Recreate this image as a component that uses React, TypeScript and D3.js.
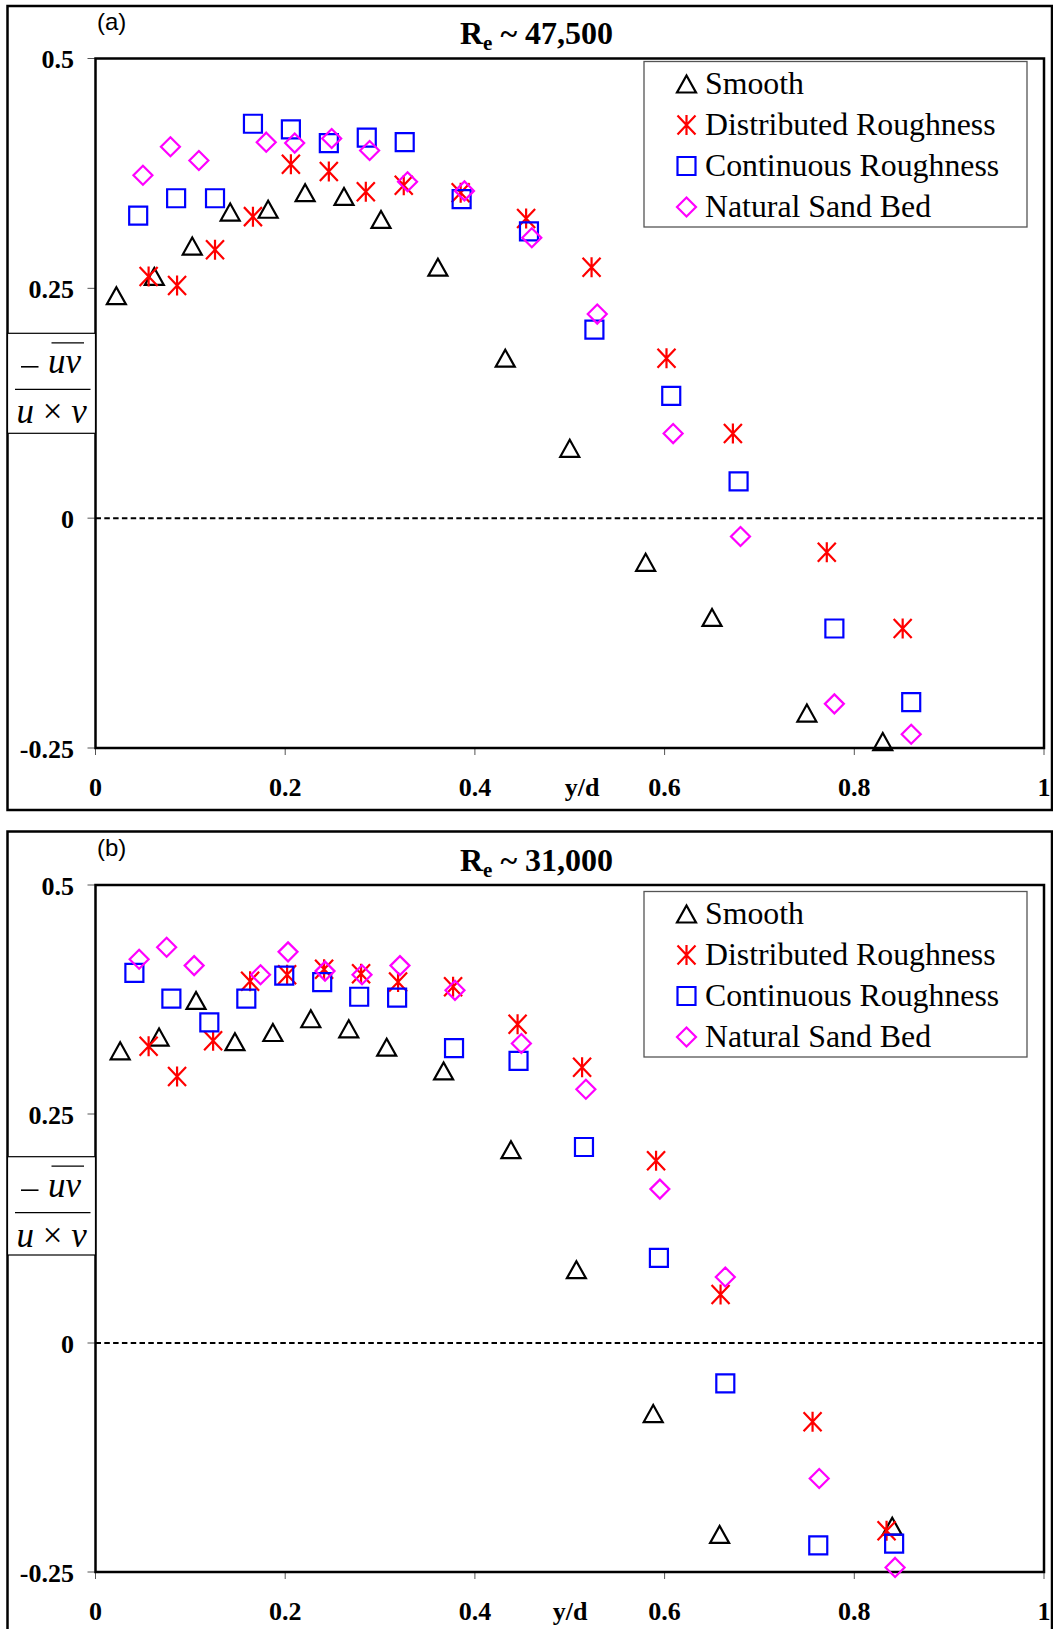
import React from 'react';
import * as d3 from 'd3';

const seriesNames = ['Smooth', 'Distributed Roughness', 'Continuous Roughness', 'Natural Sand Bed'];
const seriesColors = ['#000000', '#ff0000', '#0000ff', '#ff00ff'];
const seriesShapes = ['triangle', 'star', 'square', 'diamond'];

const xTicks = [0, 0.2, 0.4, 0.6, 0.8, 1];
const xTickLabels = ['0', '0.2', '0.4', '0.6', '0.8', '1'];
const yTicks = [0.5, 0.25, 0, -0.25];
const yTickLabels = ['0.5', '0.25', '0', '-0.25'];

// (a) Re ~ 47,500 : [y/d, -uv/(u x v)]
const smoothA = [
  [0.022, 0.242], [0.062, 0.263], [0.102, 0.296], [0.142, 0.333], [0.182, 0.336],
  [0.221, 0.354], [0.262, 0.35], [0.301, 0.325], [0.361, 0.273], [0.432, 0.174],
  [0.5, 0.076], [0.58, -0.048], [0.65, -0.108], [0.75, -0.212], [0.83, -0.243],
];
const distributedA = [
  [0.056, 0.263], [0.086, 0.253], [0.126, 0.292], [0.166, 0.328], [0.206, 0.385],
  [0.246, 0.377], [0.285, 0.355], [0.325, 0.362], [0.385, 0.354], [0.454, 0.326],
  [0.523, 0.273], [0.602, 0.174], [0.672, 0.092], [0.771, -0.037], [0.851, -0.12],
];
const continuousA = [
  [0.045, 0.329], [0.085, 0.348], [0.126, 0.348], [0.166, 0.429], [0.206, 0.423],
  [0.246, 0.408], [0.286, 0.414], [0.326, 0.409], [0.386, 0.347], [0.457, 0.312],
  [0.526, 0.205], [0.607, 0.133], [0.678, 0.04], [0.779, -0.12], [0.86, -0.2],
];
const naturalA = [
  [0.05, 0.373], [0.079, 0.404], [0.109, 0.389], [0.18, 0.409], [0.21, 0.408],
  [0.249, 0.413], [0.289, 0.4], [0.329, 0.366], [0.389, 0.356], [0.46, 0.305],
  [0.529, 0.222], [0.609, 0.092], [0.68, -0.02], [0.779, -0.202], [0.86, -0.235],
];

// (b) Re ~ 31,000
const smoothB = [
  [0.026, 0.319], [0.067, 0.334], [0.106, 0.374], [0.147, 0.329], [0.187, 0.339],
  [0.227, 0.354], [0.267, 0.343], [0.307, 0.323], [0.367, 0.297], [0.438, 0.211],
  [0.507, 0.08], [0.588, -0.077], [0.658, -0.209], [0.84, -0.2],
];
const distributedB = [
  [0.056, 0.324], [0.086, 0.291], [0.124, 0.33], [0.163, 0.395], [0.202, 0.402],
  [0.241, 0.408], [0.28, 0.403], [0.319, 0.394], [0.377, 0.389], [0.445, 0.348],
  [0.513, 0.301], [0.591, 0.199], [0.659, 0.053], [0.756, -0.086], [0.834, -0.205],
];
const continuousB = [
  [0.041, 0.404], [0.08, 0.376], [0.12, 0.35], [0.159, 0.376], [0.199, 0.401],
  [0.239, 0.394], [0.278, 0.378], [0.318, 0.377], [0.378, 0.322], [0.446, 0.308],
  [0.515, 0.214], [0.594, 0.093], [0.664, -0.044], [0.762, -0.221], [0.842, -0.219],
];
const naturalB = [
  [0.046, 0.419], [0.075, 0.432], [0.104, 0.412], [0.174, 0.402], [0.203, 0.427],
  [0.242, 0.406], [0.281, 0.402], [0.321, 0.412], [0.379, 0.385], [0.449, 0.327],
  [0.517, 0.277], [0.595, 0.168], [0.664, 0.072], [0.763, -0.148], [0.843, -0.245],
];

const markerPath = {
  triangle: 'M-9.5,8.5L9.5,8.5L0,-8.5Z',
  star: 'M0,-10V10M-9,-9.5L9,9.5M-9,9.5L9,-9.5',
  square: 'M-9,-9H9V9H-9Z',
  diamond: 'M0,-9.5L9.5,0L0,9.5L-9.5,0Z',
};

const serif = '"Liberation Serif", "Times New Roman", serif';

const panels = [
  {
    tag: '(a)', re: ' ~ 47,500', series: [smoothA, distributedA, continuousA, naturalA],
    frameTop: 6, frameBottom: 810, plotTop: 58.5, plotBottom: 748,
    legendTop: 61.5, boxTop: 333.3, boxBottom: 433.3, ydX: 582,
  },
  {
    tag: '(b)', re: ' ~ 31,000', series: [smoothB, distributedB, continuousB, naturalB],
    frameTop: 831.5, frameBottom: 1660, plotTop: 885, plotBottom: 1572,
    legendTop: 891.5, boxTop: 1156.7, boxBottom: 1255, ydX: 570,
  },
];

const plotLeft = 95.5;
const plotRight = 1044;

function Marker({ shape, color, x, y }) {
  return (
    <path
      d={markerPath[shape]}
      transform={`translate(${x},${y})`}
      fill="none"
      stroke={color}
      strokeWidth={2.2}
    />
  );
}

function Panel({ p }) {
  const x = d3.scaleLinear().domain([0, 1]).range([plotLeft, plotRight]);
  const y = d3.scaleLinear().domain([-0.25, 0.5]).range([p.plotBottom, p.plotTop]);

  return (
    <g>
      {/* outer frame */}
      <rect x={7.5} y={p.frameTop} width={1044.5} height={p.frameBottom - p.frameTop}
        fill="none" stroke="#000" strokeWidth={2.5} />

      <text x={97} y={p.frameTop + 24} fontFamily='"Liberation Sans", Arial, sans-serif' fontSize={24}>{p.tag}</text>

      <text x={460} y={p.plotTop - 14.5} fontFamily={serif} fontSize={32} fontWeight="bold">
        <tspan>R</tspan>
        <tspan fontSize={21} dy={6}>e</tspan>
        <tspan dy={-6}>{p.re}</tspan>
      </text>

      {/* zero line */}
      <line x1={x(0)} x2={x(1)} y1={y(0)} y2={y(0)} stroke="#000" strokeWidth={2} strokeDasharray="5.5 3.3" />

      {/* y ticks */}
      {yTicks.map((t, i) => (
        <g key={t}>
          <line x1={plotLeft - 8} x2={plotLeft} y1={y(t)} y2={y(t)} stroke="#555" strokeWidth={1} />
          <text x={74} y={y(t) + 9.5} textAnchor="end" fontFamily={serif} fontSize={26} fontWeight="bold">
            {yTickLabels[i]}
          </text>
        </g>
      ))}

      {/* x ticks */}
      {xTicks.map((t, i) => (
        <g key={t}>
          <line x1={x(t)} x2={x(t)} y1={p.plotBottom} y2={p.plotBottom + 7} stroke="#555" strokeWidth={1} />
          <text x={x(t)} y={p.plotBottom + 48} textAnchor="middle" fontFamily={serif} fontSize={26} fontWeight="bold">
            {xTickLabels[i]}
          </text>
        </g>
      ))}
      <text x={p.ydX} y={p.plotBottom + 48} textAnchor="middle" fontFamily={serif} fontSize={26} fontWeight="bold">y/d</text>

      {/* plot border */}
      <rect x={plotLeft} y={p.plotTop} width={plotRight - plotLeft} height={p.plotBottom - p.plotTop}
        fill="none" stroke="#000" strokeWidth={2.5} />

      {/* points */}
      {p.series.map((s, si) => (
        <g key={si}>
          {s.map((d, j) => (
            <Marker key={j} shape={seriesShapes[si]} color={seriesColors[si]} x={x(d[0])} y={y(d[1])} />
          ))}
        </g>
      ))}

      {/* legend */}
      <rect x={644} y={p.legendTop} width={383} height={165.5} fill="#fff" stroke="#555" strokeWidth={1.3} />
      {seriesNames.map((name, i) => (
        <g key={name}>
          <Marker shape={seriesShapes[i]} color={seriesColors[i]} x={686.5} y={p.legendTop + 22.5 + 41 * i} />
          <text x={705} y={p.legendTop + 32.5 + 41 * i} fontFamily={serif} fontSize={31.8}>{name}</text>
        </g>
      ))}

      {/* y-axis label box */}
      <rect x={7.5} y={p.boxTop} width={plotLeft - 7.5} height={p.boxBottom - p.boxTop}
        fill="#fff" stroke="#000" strokeWidth={1.2} />
      <line x1={21} x2={38.5} y1={p.boxTop + 33.5} y2={p.boxTop + 33.5} stroke="#000" strokeWidth={1.6} />
      <text x={48} y={p.boxTop + 40} fontFamily={serif} fontSize={35} fontStyle="italic">uv</text>
      <line x1={51.5} x2={84} y1={p.boxTop + 9.5} y2={p.boxTop + 9.5} stroke="#000" strokeWidth={1.3} />
      <line x1={15} x2={90.5} y1={p.boxTop + 56} y2={p.boxTop + 56} stroke="#000" strokeWidth={1.3} />
      <text x={16.5} y={p.boxTop + 90} fontFamily={serif} fontSize={35} fontStyle="italic">
        u<tspan fontStyle="normal"> × </tspan>v
      </text>
    </g>
  );
}

export default function App() {
  return (
    <svg width={1053} height={1629} style={{ position: 'absolute', left: 0, top: 0, background: '#fff' }}>
      <rect width={1053} height={1629} fill="#fff" />
      {panels.map(p => <Panel key={p.tag} p={p} />)}
    </svg>
  );
}
